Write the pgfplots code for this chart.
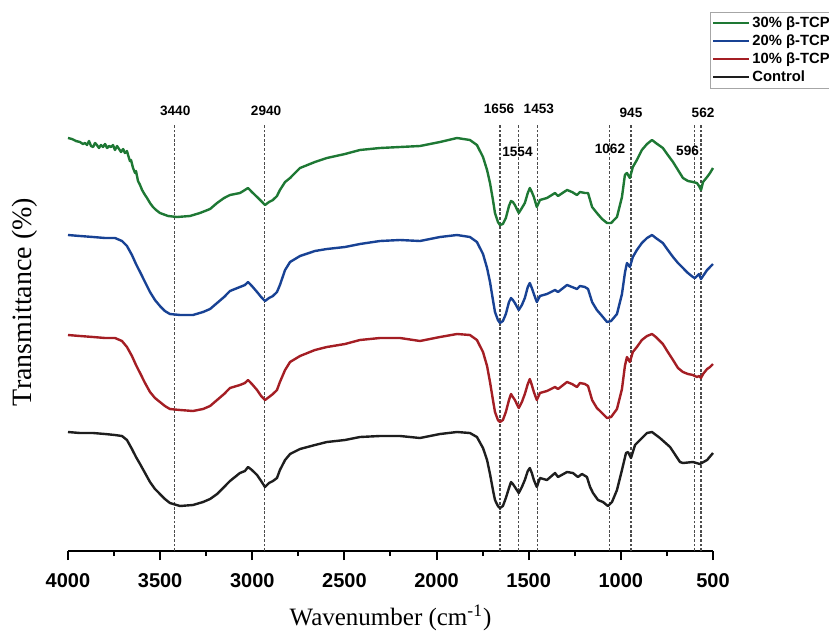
\documentclass[border=0pt]{standalone}
\usepackage{fontspec}
\setmainfont{Liberation Serif}
\newfontfamily\arialfont{Liberation Sans}
\usepackage{pgfplots}
\usepackage{pgfplotstable}
\pgfplotsset{compat=1.18}

\definecolor{cgreen}{RGB}{30,120,52}
\definecolor{cblue}{RGB}{24,66,148}
\definecolor{cred}{RGB}{164,30,36}
\definecolor{cblack}{RGB}{30,30,30}

\tikzset{
  vline/.style={draw=black!70, line width=0.6pt, dash pattern=on 1.4pt off 0.9pt},
  lab/.style={font=\arialfont\bfseries\fontsize{6.8}{8}\selectfont, inner sep=0pt},
}

% wavenumber (cm^-1) vs. transmittance (arbitrary, offset per sample)
\pgfplotstableread{
w t
4000 413
3978 412
3957 410
3935 409
3919 407
3908 408
3897 406
3886 410
3875 405
3864 404
3853 408
3843 406
3832 403
3821 406
3810 404
3799 407
3788 403
3777 405
3767 404
3756 406
3745 401
3734 405
3723 402
3712 399
3701 402
3691 398
3680 400
3674 396
3664 390
3658 391
3647 383
3636 378
3631 380
3620 370
3609 366
3598 361
3582 356
3571 353
3555 348
3539 344
3522 341
3501 338
3457 335
3409 334
3338 335
3284 338
3229 342
3191 348
3153 353
3121 356
3067 358
3040 361
3023 363
3002 359
2974 354
2952 350
2931 346
2909 349
2888 351
2866 355
2850 361
2822 369
2795 373
2741 383
2660 389
2595 393
2497 397
2416 401
2307 403
2198 404
2090 405
1981 409
1889 413
1819 411
1781 406
1748 394
1726 381
1710 368
1694 351
1683 338
1667 329
1656 326
1640 327
1624 333
1607 345
1596 350
1586 349
1575 346
1554 338
1537 343
1521 348
1505 358
1494 363
1483 359
1472 354
1456 344
1439 351
1401 353
1357 358
1341 355
1292 361
1265 359
1238 356
1222 359
1195 358
1178 358
1156 344
1130 338
1102 332
1075 328
1053 328
1021 334
994 354
978 376
967 378
951 373
935 384
913 391
886 401
858 407
831 411
810 408
772 403
745 396
717 389
690 381
663 373
636 370
609 369
587 368
576 365
565 361
554 369
532 374
516 378
500 383
}\tcpthirty

\pgfplotstableread{
w t
4000 316
3935 315
3864 314
3799 313
3745 313
3707 310
3680 305
3653 296
3631 287
3609 279
3582 269
3555 259
3528 251
3501 245
3474 240
3447 237
3392 236
3322 236
3267 239
3229 242
3191 248
3153 254
3121 260
3067 264
3040 266
3023 269
3002 265
2974 259
2952 254
2931 250
2909 253
2888 255
2866 259
2850 266
2822 281
2795 289
2741 295
2660 300
2595 302
2497 304
2416 307
2307 310
2198 311
2090 310
1981 314
1889 316
1819 314
1781 309
1748 297
1726 283
1710 269
1694 251
1683 239
1667 231
1656 228
1640 230
1624 237
1607 249
1596 253
1586 251
1575 248
1554 241
1537 246
1521 253
1505 264
1494 268
1483 263
1472 257
1456 249
1439 255
1401 257
1357 261
1341 259
1292 266
1265 264
1238 262
1222 265
1195 264
1178 262
1156 249
1130 241
1102 235
1075 229
1053 230
1021 237
994 257
978 278
967 288
951 284
935 294
913 301
886 308
858 313
831 316
810 313
772 308
745 301
717 294
690 288
663 283
636 278
609 274
598 273
587 275
576 277
565 272
554 275
532 281
516 284
500 287
}\tcptwenty

\pgfplotstableread{
w t
4000 216
3935 215
3864 214
3799 213
3745 213
3707 210
3680 204
3653 195
3631 186
3609 178
3582 168
3555 159
3528 153
3501 149
3474 145
3447 142
3392 141
3322 140
3267 142
3229 145
3191 151
3153 157
3121 163
3067 166
3040 168
3023 171
3002 167
2974 161
2952 155
2931 151
2909 154
2888 157
2866 161
2850 169
2822 181
2795 189
2741 195
2660 201
2595 204
2497 207
2416 211
2307 213
2198 213
2090 210
1981 214
1889 217
1819 216
1781 211
1748 199
1726 185
1710 169
1694 151
1683 139
1667 131
1656 129
1640 131
1624 139
1607 151
1596 157
1586 154
1575 151
1554 143
1537 149
1521 157
1505 167
1494 172
1483 166
1472 159
1456 151
1439 158
1401 160
1357 164
1341 162
1292 169
1265 167
1238 164
1222 168
1195 167
1178 165
1156 151
1130 143
1102 138
1075 133
1053 134
1021 142
994 162
978 185
967 194
951 189
935 199
913 204
886 211
858 215
831 217
810 214
772 207
745 199
717 191
690 183
663 179
636 177
609 176
598 175
587 174
576 175
565 173
554 177
532 182
516 184
500 187
}\tcpten

\pgfplotstableread{
w t
4000 119
3935 118
3864 118
3799 117
3745 116
3707 115
3680 111
3653 102
3631 94
3609 87
3582 78
3555 69
3528 62
3501 57
3474 52
3447 48
3392 45
3322 46
3267 49
3229 52
3191 57
3153 64
3121 70
3067 78
3040 80
3023 84
3002 81
2974 76
2952 70
2931 64
2909 68
2888 70
2866 73
2850 81
2822 91
2795 97
2741 102
2660 106
2595 109
2497 111
2416 114
2307 115
2198 115
2090 113
1981 117
1889 119
1819 118
1781 114
1748 103
1726 91
1710 77
1694 61
1683 51
1667 45
1656 43
1640 45
1624 53
1607 63
1596 69
1586 67
1575 64
1554 58
1537 64
1521 71
1505 80
1494 83
1483 78
1472 71
1456 64
1439 73
1401 71
1357 78
1341 74
1292 79
1260 78
1233 74
1211 77
1184 74
1167 64
1151 58
1124 51
1097 49
1070 45
1048 49
1021 61
994 81
972 98
961 99
945 93
923 106
896 111
858 118
831 119
788 113
733 104
679 89
663 88
609 89
571 87
532 91
500 98
}\control

\begin{document}
\begin{tikzpicture}
\begin{axis}[
  at={(0,0)}, anchor=south west,
  scale only axis, width=322.5pt, height=228pt,
  x dir=reverse, xmin=500, xmax=4000, ymin=0, ymax=456,
  axis x line*=bottom, axis y line*=left,
  y axis line style={draw=none},
  x axis line style={line width=1pt},
  ytick=\empty,
  xtick={500,1000,...,4000},
  minor xtick={750,1250,...,3750},
  tick align=outside,
  major tick length=4.5pt, minor tick length=2.5pt,
  tick style={black, line width=1pt},
  xticklabel style={font=\arialfont\bfseries\fontsize{10}{12}\selectfont, yshift=-3pt},
  /pgf/number format/assume math mode=true,
  /pgf/number format/1000 sep={},
  xlabel={Wavenumber (cm\textsuperscript{-1})},
  ylabel={Transmittance (\%)},
  every axis x label/.style={at={(axis description cs:0.5,-0.147)}, anchor=center, font=\fontsize{12.5}{15}\selectfont},
  every axis y label/.style={at={(axis description cs:-0.0667,0.546)}, anchor=center, rotate=90, font=\fontsize{14}{16}\selectfont},
  legend style={at={(axis description cs:0.9953,1.182)}, anchor=north west,
    draw=gray!70, line width=0.4pt, inner sep=1pt,
    font=\arialfont\bfseries\fontsize{7.4}{8}\selectfont,
    nodes={inner sep=1pt, text height=5.5pt, text depth=1.5pt}},
  legend cell align=left,
  legend image code/.code={\draw[#1, line width=1pt] (0pt,0pt) -- (18pt,0pt);},
  clip=false,
]
\pgfplotsinvokeforeach{3420,2932,1656,1554,1453,1062,945,600,565}{
  \draw[vline] (#1,0) -- (#1,426);
}
\addplot[cgreen, line width=1.2pt, line join=round] table[x=w, y=t] {\tcpthirty};
\addplot[cblue, line width=1.2pt, line join=round] table[x=w, y=t] {\tcptwenty};
\addplot[cred, line width=1.2pt, line join=round] table[x=w, y=t] {\tcpten};
\addplot[cblack, line width=1.2pt, line join=round] table[x=w, y=t] {\control};
\legend{30\% β-TCP, 20\% β-TCP, 10\% β-TCP, Control}

\node[lab] at (3418,440) {3440};
\node[lab] at (2925,440) {2940};
\node[lab] at (1661,442) {1656};
\node[lab] at (1445,442) {1453};
\node[lab] at (945,438) {945};
\node[lab] at (554,438) {562};
\node[lab] at (1561,399) {1554};
\node[lab] at (1059,402) {1062};
\node[lab] at (638,400) {596};
\end{axis}
\pgfresetboundingbox
\useasboundingbox (-34pt,-41pt) rectangle (380.5pt,275.5pt);
\end{tikzpicture}
\end{document}
